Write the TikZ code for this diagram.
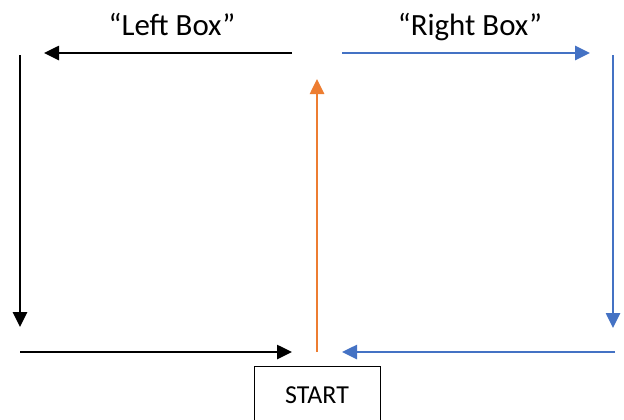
\documentclass[tikz,border=0pt]{standalone}
\usepackage{fontspec}
\setmainfont{Carlito}
\usepackage{tikz}
\usetikzlibrary{positioning}
\usetikzlibrary{arrows.meta}
\definecolor{loopblue}{HTML}{4472C4}
\definecolor{looporange}{HTML}{ED7D31}

\begin{document}
\begin{tikzpicture}[x=1bp, y=-1bp,
    flow/.style={line width=2.6bp, -{Triangle[length=15bp, width=14bp]}},
    title/.style={anchor=base, font=\fontsize{31}{36}\selectfont}]
    \clip (0,0) rectangle (624,419);
    \node[title] (leftlabel) at (172,35) {``Left Box''};
    \node[title] (rightlabel) at (470,35) {``Right Box''};
    \node[draw, line width=1bp, minimum width=126bp, minimum height=58bp,
        font=\fontsize{26}{30}\selectfont] (start) at (317,395.5) {START};
    \coordinate (lefttop) at (292,53);
    \coordinate (leftend) at (44,53);
    \coordinate (leftcorner) at (20,55);
    \coordinate (leftdown) at (20,327);
    \coordinate (leftbottom) at (20,352);
    \coordinate (leftin) at (292,352);
    \coordinate (upfoot) at (317,352);
    \coordinate (uptip) at (317,79);
    \coordinate (righttop) at (342,53);
    \coordinate (rightend) at (590,53);
    \coordinate (rightcorner) at (613,55);
    \coordinate (rightdown) at (613,328);
    \coordinate (rightbottom) at (615,352);
    \coordinate (rightin) at (342,352);
    \draw[flow] (lefttop) -- (leftend);
    \draw[flow, line cap=butt] (leftcorner) -- (leftdown);
    \draw[flow] (leftbottom) -- (leftin);
    \draw[flow, looporange] (upfoot) -- (uptip);
    \draw[flow, loopblue] (righttop) -- (rightend);
    \draw[flow, loopblue] (rightcorner) -- (rightdown);
    \draw[flow, loopblue] (rightbottom) -- (rightin);
\end{tikzpicture}
\end{document}
